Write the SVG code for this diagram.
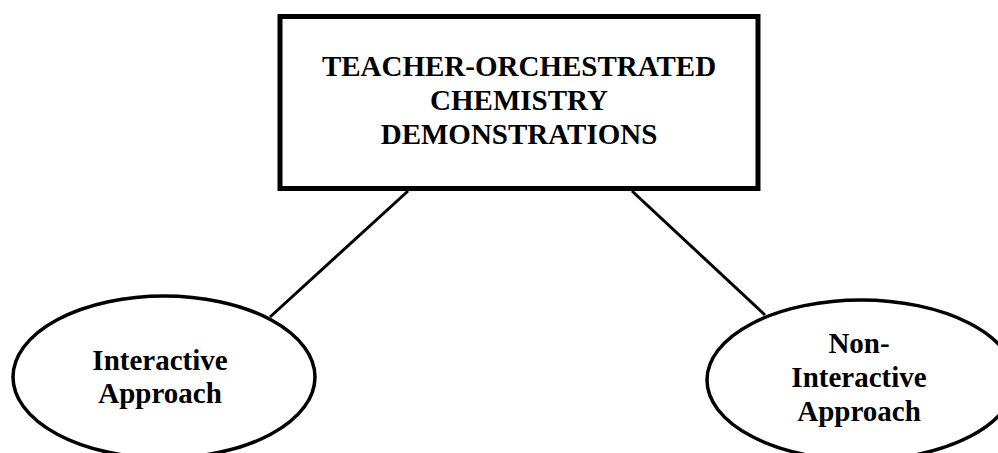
<svg xmlns="http://www.w3.org/2000/svg" width="998" height="453" viewBox="0 0 998 453">
<style>
.t{font-family:"Liberation Serif","Times New Roman",serif;font-weight:bold;font-size:29px;fill:#000;text-anchor:middle}
.c{stroke:#000;stroke-width:3;fill:none}
</style>
<rect x="0" y="0" width="998" height="453" fill="#fff"/>
<g id="connectors">
<line class="c" x1="408" y1="191" x2="270" y2="317"/>
<line class="c" x1="632" y1="191" x2="765" y2="315"/>
</g>
<g id="root">
<rect x="280" y="16.5" width="478" height="172" fill="#fff" stroke="#000" stroke-width="5"/>
<text class="t" x="519" y="76">TEACHER-ORCHESTRATED</text>
<text class="t" x="519" y="110">CHEMISTRY</text>
<text class="t" x="519" y="144">DEMONSTRATIONS</text>
</g>
<g id="interactive">
<ellipse cx="164" cy="377" rx="151" ry="81" fill="#fff" stroke="#000" stroke-width="3.5"/>
<text class="t" x="160" y="370">Interactive</text>
<text class="t" x="160" y="403">Approach</text>
</g>
<g id="noninteractive">
<ellipse cx="861" cy="380" rx="154" ry="80" fill="#fff" stroke="#000" stroke-width="3.5"/>
<text class="t" x="859" y="353">Non-</text>
<text class="t" x="859" y="387">Interactive</text>
<text class="t" x="859" y="421">Approach</text>
</g>
</svg>
